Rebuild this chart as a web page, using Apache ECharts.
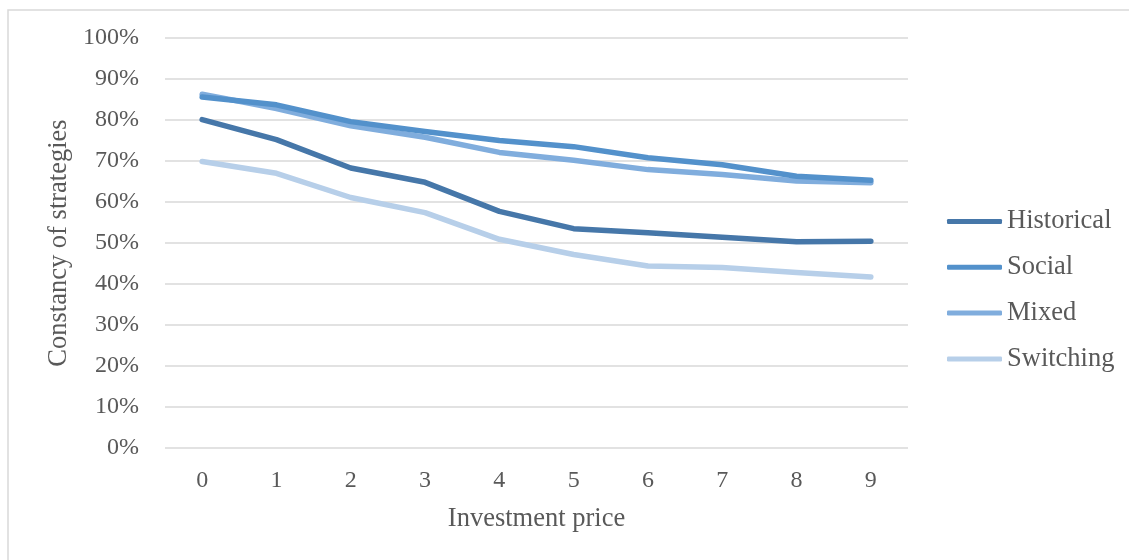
<!DOCTYPE html>
<html>
<head>
<meta charset="utf-8">
<script src="https://cdn.jsdelivr.net/npm/echarts@6/dist/echarts.min.js"></script>
<style>
html,body{margin:0;padding:0;background:#fff;}
#chart{width:1129px;height:560px;}
</style>
</head>
<body>
<div id="chart"></div>
<script>
const categories = ['0','1','2','3','4','5','6','7','8','9'];
const historical = [80.1, 75.2, 68.3, 64.8, 57.7, 53.5, 52.5, 51.4, 50.3, 50.4];
const social     = [85.6, 83.7, 79.6, 77.2, 75.0, 73.5, 70.8, 69.1, 66.3, 65.3];
const mixed      = [86.3, 82.8, 78.6, 75.8, 72.1, 70.2, 67.9, 66.7, 65.1, 64.7];
const switching  = [69.9, 67.0, 61.1, 57.4, 50.9, 47.2, 44.4, 44.0, 42.8, 41.7];
const seriesNames = ['Historical','Social','Mixed','Switching'];
const colors = ['#4677a9','#5391cb','#80addd','#b7cfe9'];

const font = '"Liberation Serif", "Times New Roman", serif';
const textColor = '#595959';

const chart = echarts.init(document.getElementById('chart'));
const dataSets = [historical, social, mixed, switching];

chart.setOption({
  animation: false,
  backgroundColor: '#fff',
  graphic: [{
    type: 'rect',
    shape: {x: 8, y: 10, width: 1200, height: 600},
    style: {fill: 'none', stroke: '#d9d9d9', lineWidth: 1.5},
    silent: true
  }],
  grid: {left: 165, right: 221, top: 38, bottom: 112, containLabel: false},
  legend: {
    orient: 'vertical',
    left: 942,
    top: 203,
    itemWidth: 55,
    itemHeight: 5,
    itemGap: 18.8,
    icon: 'roundRect',
    textStyle: {fontFamily: font, fontSize: 26.5, color: textColor, lineHeight: 26.5},
    data: seriesNames
  },
  xAxis: {
    type: 'category',
    data: categories,
    boundaryGap: true,
    axisLine: {show: false},
    axisTick: {show: false},
    axisLabel: {fontFamily: font, fontSize: 24, color: textColor, margin: 21},
    name: 'Investment price',
    nameLocation: 'middle',
    nameGap: 58,
    nameTextStyle: {fontFamily: font, fontSize: 26.5, color: textColor}
  },
  yAxis: {
    type: 'value',
    min: 0, max: 100, interval: 10,
    axisLine: {show: false},
    axisTick: {show: false},
    axisLabel: {fontFamily: font, fontSize: 24, color: textColor, margin: 26, formatter: '{value}%'},
    splitLine: {lineStyle: {color: '#d9d9d9', width: 1.5}},
    name: 'Constancy of strategies',
    nameLocation: 'middle',
    nameGap: 92,
    nameTextStyle: {fontFamily: font, fontSize: 26.5, color: textColor}
  },
  series: seriesNames.map((n, i) => ({
    name: n,
    type: 'line',
    data: dataSets[i],
    symbol: 'none',
    smooth: false,
    color: colors[i],
    lineStyle: {width: 5.5, color: colors[i], cap: 'round', join: 'round'},
    z: 10 - i
  }))
});
</script>
</body>
</html>
